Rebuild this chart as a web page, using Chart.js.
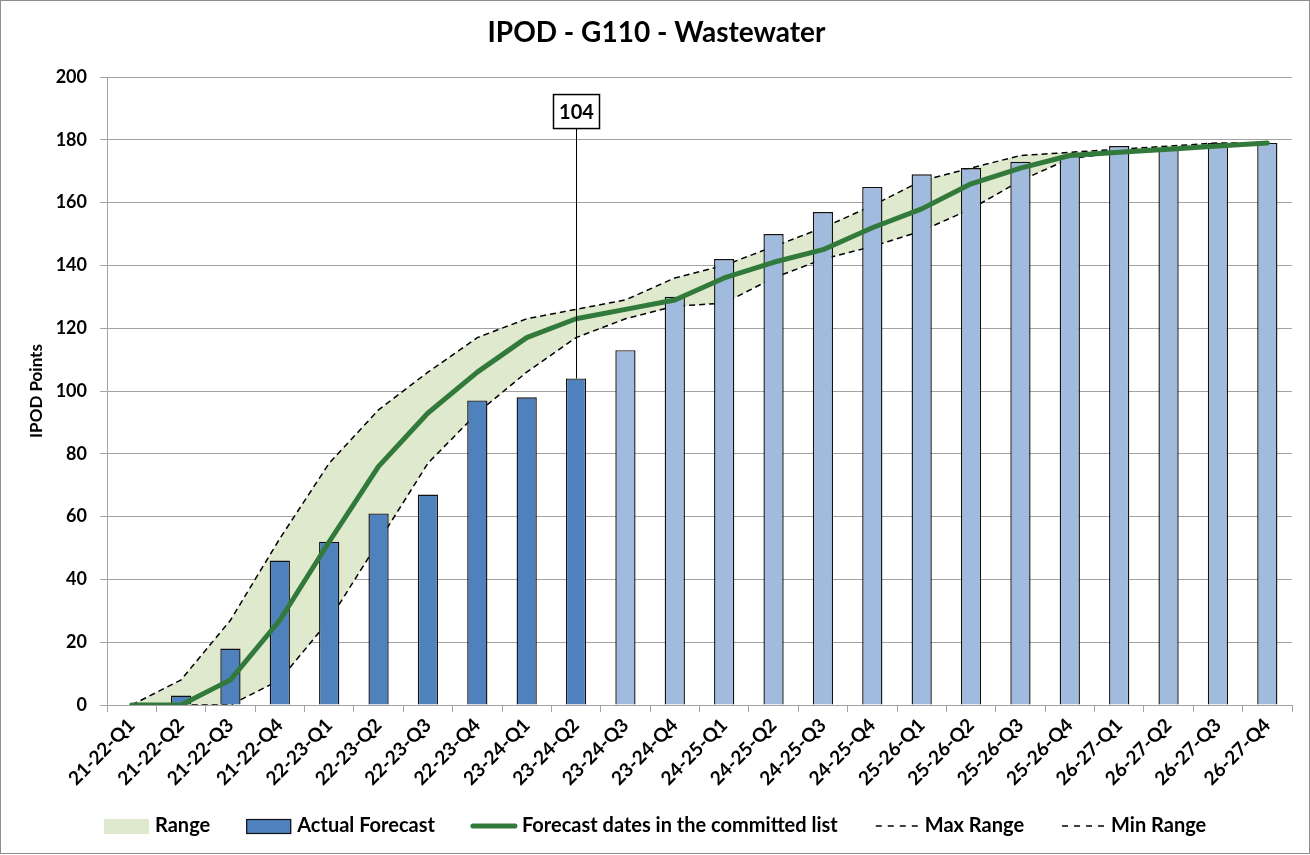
<!DOCTYPE html>
<html><head><meta charset="utf-8">
<script src="https://cdn.jsdelivr.net/npm/chart.js@4.4.1/dist/chart.umd.min.js"></script>
<style>
html,body{margin:0;padding:0;background:#fff;}
#wrap{position:absolute;left:0;top:0;width:1308px;height:852px;border:1px solid #8e8e8e;}
canvas{display:block;}
</style></head><body>
<div id="wrap"><canvas id="c" width="1308" height="852"></canvas></div>
<script>
// ---- data ----
const categories = ['21-22-Q1','21-22-Q2','21-22-Q3','21-22-Q4','22-23-Q1','22-23-Q2','22-23-Q3','22-23-Q4',
  '23-24-Q1','23-24-Q2','23-24-Q3','23-24-Q4','24-25-Q1','24-25-Q2','24-25-Q3','24-25-Q4',
  '25-26-Q1','25-26-Q2','25-26-Q3','25-26-Q4','26-27-Q1','26-27-Q2','26-27-Q3','26-27-Q4'];
const barValues = [0,3,18,46,52,61,67,97,98,104,113,130,142,150,157,165,169,171,173,175,178,177,179,179];
const actualCount = 10;
const committedLine = [0,0,8,27,52,76,93,106,117,123,126,129,136,141,145,152,158,166,171,175,176,177,178,179];
const maxRange = [0,8,27,53,77,94,106,117,123,126,129,136,140,146,152,159,167,171,175,176,177,178,179,179];
const minRange = [0,0,0,8,27,52,77,93,106,117,123,127,128,136,142,146,151,158,167,174,176,177,178,179];
const yMin = 0, yMax = 200, yStep = 20;
const chartTitle = 'IPOD - G110 - Wastewater';
const yTitle = 'IPOD Points';
const rangeLabel = 'Range';
const barLabel = 'Actual Forecast';
const lineLabel = 'Forecast dates in the committed list';
const maxLabel = 'Max Range';
const minLabel = 'Min Range';

// ---- styles ----
const FONT = 'Lato';
const darkBlue = '#4F81BD';
const lightBlue = '#A0BBDD';
const barBorder = '#111111';
const green = '#327A3B';
const rangeFill = '#DFE9CD';
const gridColor = '#A3A3A3';
const dashPattern = [6,4];

const barColors = barValues.map((v,i)=> i < actualCount ? darkBlue : lightBlue);

const legendPlugin = {
  id:'customLegend',
  afterDraw(chart){
    const ctx = chart.ctx;
    const ds = chart.data.datasets;
    const items = [
      {text: rangeLabel, kind:'box', fill: rangeFill, stroke: null},
      {text: ds[1].label, kind:'box', fill: darkBlue, stroke: barBorder},
      {text: ds[0].label, kind:'line', color: green, width: 5, dash: []},
      {text: ds[2].label, kind:'line', color: '#000', width: 1.5, dash: [6,6]},
      {text: ds[3].label, kind:'line', color: '#000', width: 1.5, dash: [6,6]}
    ];
    ctx.save();
    ctx.font = 'bold 20px ' + FONT;
    ctx.textBaseline = 'middle';
    const sw = 45, gapT = 6, gapI = 36;
    let total = 0;
    items.forEach((it,i)=>{ total += sw + gapT + ctx.measureText(it.text).width + (i < items.length-1 ? gapI : 0); });
    let x = Math.round(chart.width/2 - total/2); const y = 825;
    items.forEach(it=>{
      if (it.kind === 'box') {
        ctx.fillStyle = it.fill;
        ctx.fillRect(x, y-7, sw, 15);
        if (it.stroke) { ctx.strokeStyle = it.stroke; ctx.lineWidth = 1.2; ctx.strokeRect(x+0.5, y-6.5, sw-1, 14); }
      } else {
        ctx.beginPath();
        ctx.setLineDash(it.dash);
        ctx.strokeStyle = it.color; ctx.lineWidth = it.width; ctx.lineCap = it.dash.length ? 'butt' : 'round';
        ctx.moveTo(x+2, y); ctx.lineTo(x+sw-1, y); ctx.stroke();
        ctx.setLineDash([]);
      }
      x += sw + gapT;
      ctx.fillStyle = '#000';
      ctx.fillText(it.text, x, y);
      x += ctx.measureText(it.text).width + gapI;
    });
    ctx.restore();
  }
};

const annotationPlugin = {
  id:'calloutBox',
  afterDatasetsDraw(chart){
    const ctx = chart.ctx;
    const xs = chart.scales.x, ys = chart.scales.y;
    const idx = actualCount - 1;
    const val = barValues[idx];
    const px = Math.round(xs.getPixelForValue(idx)) + 0.5;
    const pyBar = ys.getPixelForValue(val);
    const boxCy = ys.getPixelForValue(189);
    const bw = 46, bh = 34;
    ctx.save();
    ctx.strokeStyle = '#000'; ctx.lineWidth = 1;
    ctx.beginPath(); ctx.moveTo(px, boxCy + bh/2); ctx.lineTo(px, pyBar); ctx.stroke();
    ctx.fillStyle = '#fff';
    ctx.fillRect(px - bw/2, boxCy - bh/2, bw, bh);
    ctx.lineWidth = 1.5;
    ctx.strokeRect(px - bw/2, boxCy - bh/2, bw, bh);
    ctx.fillStyle = '#000';
    ctx.font = 'bold 20px ' + FONT;
    ctx.textAlign = 'center'; ctx.textBaseline = 'middle';
    ctx.fillText(String(val), px, boxCy + 1);
    ctx.restore();
  }
};

function draw(){
  new Chart(document.getElementById('c'), {
    type:'bar',
    data:{
      labels: categories,
      datasets:[
        {type:'line', label: lineLabel, data: committedLine, borderColor: green, borderWidth: 5,
          pointRadius: 0, fill: false, tension: 0, borderJoinStyle:'round', borderCapStyle:'round'},
        {type:'bar', label: barLabel, data: barValues, backgroundColor: barColors, borderColor: barBorder,
          borderWidth: 1.4, barPercentage: 0.41, categoryPercentage: 1.0},
        {type:'line', label: maxLabel, data: maxRange, borderColor:'#000', borderWidth: 1.5, borderDash: dashPattern,
          pointRadius: 0, tension: 0, fill: {target: '+1'}, backgroundColor: rangeFill},
        {type:'line', label: minLabel, data: minRange, borderColor:'#000', borderWidth: 1.5, borderDash: dashPattern,
          pointRadius: 0, tension: 0, fill: false}
      ]
    },
    options:{
      responsive:false,
      animation:false,
      layout:{padding:{left:20, right:17, top:14, bottom:50}},
      plugins:{
        legend:{display:false},
        tooltip:{enabled:false},
        filler:{drawTime:'beforeDatasetsDraw'},
        title:{display:true, text: chartTitle, color:'#000',
          font:{family: FONT, size: 28, weight:'bold'}, padding:{top:1, bottom:27.4}}
      },
      scales:{
        x:{
          offset:true,
          grid:{display:true, drawOnChartArea:false, drawTicks:true, tickLength:7, color: gridColor, offset:true},
          border:{display:true, color: gridColor},
          ticks:{color:'#000', font:{family: FONT, size: 19, weight:'bold'}, maxRotation:45, minRotation:45, autoSkip:false, padding:2},
          afterFit(scale){ scale.height = 98; }
        },
        y:{
          min: yMin, max: yMax,
          ticks:{stepSize: yStep, color:'#000', font:{family: FONT, size: 18, weight:'bold'}, padding: 13},
          grid:{color: gridColor, tickLength: 7},
          border:{display:true, color: gridColor},
          title:{display:true, text: yTitle, color:'#000', font:{family: FONT, size: 17, weight:'bold'}, padding:{top:5,bottom:0}},
          afterFit(scale){ scale.width = 86; }
        }
      }
    },
    plugins:[annotationPlugin, legendPlugin]
  });
}
if (document.fonts && document.fonts.load) {
  Promise.all([document.fonts.load('bold 16px Lato')]).then(draw, draw);
} else draw();
</script>
</body></html>
